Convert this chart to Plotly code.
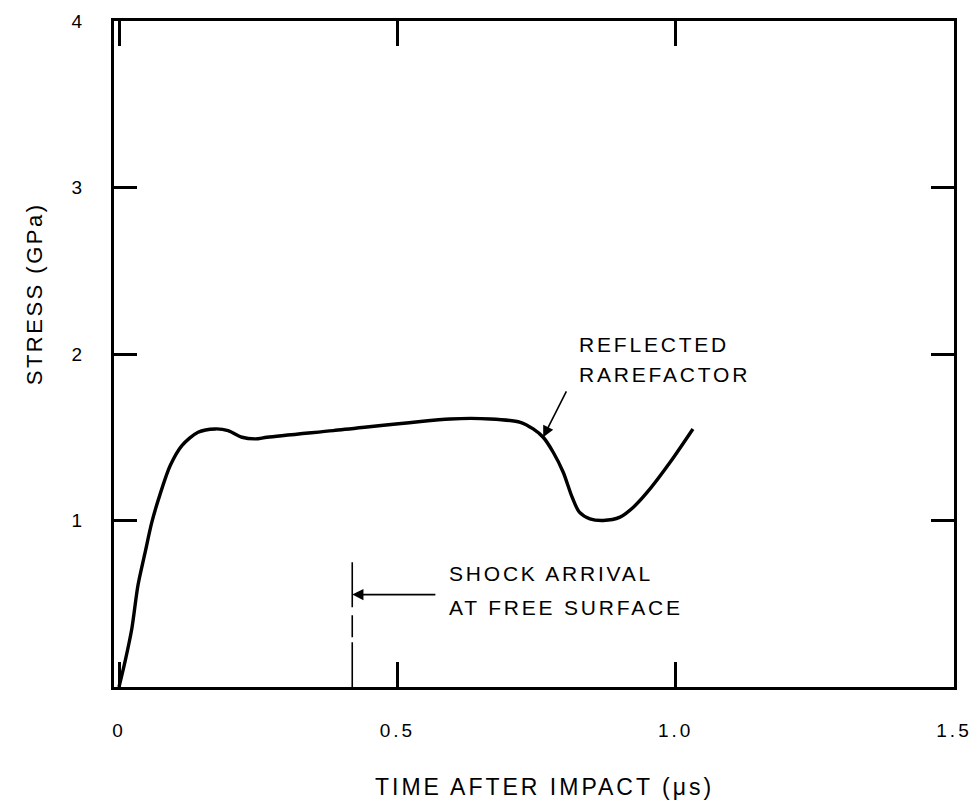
import plotly.graph_objects as go

# Stress history
time_us = [0.0, 0.011, 0.023, 0.034, 0.047, 0.059, 0.074, 0.092, 0.113, 0.142,
           0.173, 0.196, 0.221, 0.245, 0.266, 0.385, 0.595, 0.667, 0.721, 0.744,
           0.762, 0.780, 0.798, 0.814, 0.827, 0.846, 0.870, 0.900, 0.924, 0.949,
           0.990, 1.031]
stress_gpa = [0.0, 0.155, 0.35, 0.61, 0.81, 0.99, 1.16, 1.33, 1.45, 1.53,
              1.55, 1.54, 1.50, 1.49, 1.50, 1.54, 1.61, 1.61, 1.59, 1.55,
              1.50, 1.41, 1.29, 1.14, 1.05, 1.01, 1.00, 1.02, 1.08, 1.17,
              1.35, 1.55]

# shock arrival marker (drawn from the top down)
shock_t = [0.419, 0.419]
shock_s = [0.75, 0.0]

x_ticks = [0, 0.5, 1.0, 1.5]
x_labels = ["0", "0.5", "1.0", "1.5"]
y_ticks = [1, 2, 3, 4]
y_labels = ["1", "2", "3", "4"]

font = "Liberation Sans, Arial, sans-serif"


def spaced(s, px):
    return '<span style="letter-spacing:%spx">%s</span>' % (px, s)


fig = go.Figure()
fig.add_trace(go.Scatter(x=time_us, y=stress_gpa, mode="lines",
                         line=dict(color="black", width=3.4, shape="spline", smoothing=0.8),
                         hoverinfo="skip", showlegend=False))
fig.add_trace(go.Scatter(x=shock_t, y=shock_s, mode="lines",
                         line=dict(color="black", width=1.6,
                                   dash="45px,8px,22px,5px,60px,5px"),
                         hoverinfo="skip", showlegend=False))

# arrows
fig.add_annotation(x=0.419, y=0.555, ax=0.571, ay=0.555, xref="x", yref="y",
                   axref="x", ayref="y", text="", showarrow=True,
                   arrowhead=2, arrowsize=1.4, arrowwidth=1.6, arrowcolor="black")
fig.add_annotation(x=0.762, y=1.50, ax=0.805, ay=1.785, xref="x", yref="y",
                   axref="x", ayref="y", text="", showarrow=True,
                   arrowhead=2, arrowsize=1.4, arrowwidth=1.6, arrowcolor="black")

# labels, one annotation per line
notes = [(0.589, 0.682, "SHOCK ARRIVAL"), (0.589, 0.478, "AT FREE SURFACE"),
         (0.823, 2.057, "REFLECTED"), (0.823, 1.877, "RAREFACTOR")]
for nx, ny, txt in notes:
    fig.add_annotation(x=nx, y=ny, xref="x", yref="y", xanchor="left", yanchor="middle",
                       text=spaced(txt, 2.8), showarrow=False,
                       font=dict(family=font, size=21, color="black"))

# axis titles
fig.add_annotation(x=0.513, y=-0.1495, xref="paper", yref="paper",
                   xanchor="center", yanchor="middle", showarrow=False,
                   text=spaced("TIME AFTER IMPACT (μs)", 3),
                   font=dict(family=font, size=23, color="black"))
fig.add_annotation(x=-0.095, y=0.59, xref="paper", yref="paper", textangle=-90,
                   xanchor="center", yanchor="middle", showarrow=False,
                   text=spaced("STRESS (GPa)", 2.5),
                   font=dict(family=font, size=22, color="black"))

fig.update_layout(
    width=977, height=806,
    margin=dict(l=114, r=23, t=21, b=119),
    paper_bgcolor="white", plot_bgcolor="white",
    font=dict(family=font, size=17, color="black"),
)
fig.update_xaxes(range=[-0.009, 1.5], tickvals=x_ticks,
                 ticktext=[spaced(t, 3) for t in x_labels],
                 tickfont=dict(family=font, size=19, color="black"),
                 ticklabeloverflow="allow", automargin=False,
                 showgrid=False, zeroline=False, showline=True, linewidth=3,
                 linecolor="black", mirror="ticks", ticks="inside", ticklen=25,
                 tickwidth=2.5, tickcolor="black", ticklabelstandoff=24)
fig.update_yaxes(range=[0, 4], tickvals=y_ticks,
                 ticktext=[spaced(t, 3) for t in y_labels],
                 tickfont=dict(family=font, size=19, color="black"),
                 ticklabeloverflow="allow", automargin=False,
                 showgrid=False, zeroline=False, showline=True, linewidth=3,
                 linecolor="black", mirror="ticks", ticks="inside", ticklen=23,
                 tickwidth=2.5, tickcolor="black", ticklabelstandoff=22)

# drop the browser's default 8px body margin so the 977x806 figure fills the window
fig.write_html("out.html", config={"displayModeBar": False},
               post_script="document.body.style.margin='0';")
